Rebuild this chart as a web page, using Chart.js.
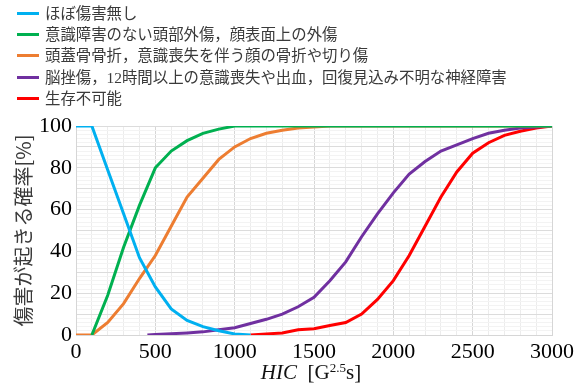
<!DOCTYPE html>
<html lang="ja">
<head>
<meta charset="utf-8">
<title>HIC 傷害確率</title>
<script src="https://cdn.jsdelivr.net/npm/chart.js@4.4.1/dist/chart.umd.min.js"></script>
<style>
    html, body { margin: 0; padding: 0; background: #fff; }
    #wrap { position: relative; width: 578px; height: 387px; }
    #legend { position: absolute; left: 0; top: 3px; font-family: "Liberation Serif", "Noto Sans CJK JP", serif; font-size: 15.4px; color: #3a3a3a; }
    #legend .item { position: relative; height: 21.2px; line-height: 21.2px; white-space: nowrap; }
    #legend .swatch { position: absolute; left: 17px; top: 9px; width: 22px; height: 3px; }
    #legend .label { position: absolute; left: 45px; top: 0; }
    #xtitle { position: absolute; left: 211px; width: 200px; top: 362px; text-align: center; font-family: "Liberation Serif", serif; font-size: 21px; line-height: 20px; color: #111; }
    #xtitle sup { font-size: 13px; vertical-align: 7px; line-height: 0; }
</style>
</head>
<body>
<div id="wrap">
    <canvas id="riskChart" width="578" height="387"></canvas>
    <div id="legend"></div>
    <div id="xtitle"><i>HIC</i>&nbsp;&nbsp;[G<sup>2.5</sup>s]</div>
</div>
<script>
// HIC values (x axis) shared by most series
const hic = [0, 100, 200, 300, 400, 500, 600, 700, 800, 900, 1000,
             1100, 1200, 1300, 1400, 1500, 1600, 1700, 1800, 1900, 2000,
             2100, 2200, 2300, 2400, 2500, 2600, 2700, 2800, 2900, 3000];

// probability [%]
const noInjury = [100, 100, 79, 58, 37, 23, 12.5, 7, 4, 2, 0.5,
                  0, null, null, null, null, null, null, null, null, null,
                  null, null, null, null, null, null, null, null, null, null];
const minorHead = [null, 0, 19, 42, 62, 80, 88, 93, 96.5, 98.5, 100,
                   100, 100, 100, 100, 100, 100, 100, 100, 100, 100,
                   100, 100, 100, 100, 100, 100, 100, 100, 100, 100];
const skullFracture = [0, 0, 6, 15, 27, 38, 52, 66, 75, 84, 90,
                       94, 96.5, 98, 99, 99.5, 100, 100, 100, 100, 100,
                       100, 100, 100, 100, 100, 100, 100, 100, 100, 100];
// purple curve starts a little after 400
const contusionHic = [450, 500, 600, 700, 800, 900, 1000, 1100, 1200, 1300, 1400,
                      1500, 1600, 1700, 1800, 1900, 2000, 2100, 2200, 2300, 2400,
                      2500, 2600, 2700, 2800, 2900, 3000];
const contusion = [0, 0.3, 0.6, 1, 1.5, 2.5, 3.5, 5.5, 7.5, 10, 13.5,
                   18, 26, 35, 47, 58, 68, 77, 83, 88, 91,
                   94, 96.5, 98, 99, 99.5, 100];
const fatal = [null, null, null, null, null, null, null, null, null, null, null,
               0, 0.5, 1, 2.5, 3, 4.5, 6, 10, 17, 26,
               38, 52, 66, 78, 87, 92, 95.5, 97.5, 99, 100];

const seriesNames = [
    'ほぼ傷害無し',
    '意識障害のない頭部外傷，顔表面上の外傷',
    '頭蓋骨骨折，意識喪失を伴う顔の骨折や切り傷',
    '脳挫傷，12時間以上の意識喪失や出血，回復見込み不明な神経障害',
    '生存不可能'
];
const seriesColors = ['#00b0f0', '#00b050', '#ed7d31', '#7030a0', '#ff0000'];

const yTicks = [0, 20, 40, 60, 80, 100];
const xTicks = [0, 500, 1000, 1500, 2000, 2500, 3000];

function toPoints(xs, ys) {
    const pts = [];
    xs.forEach(function(x, i) {
        if (ys[i] !== null && ys[i] !== undefined) pts.push({ x: x, y: ys[i] });
    });
    return pts;
}

document.addEventListener('DOMContentLoaded', function() {
    const seriesData = [
        toPoints(hic, noInjury),
        toPoints(hic, minorHead),
        toPoints(hic, skullFracture),
        toPoints(contusionHic, contusion),
        toPoints(hic, fatal)
    ];

    const datasets = seriesData.map(function(pts, i) {
        return {
            label: seriesNames[i],
            data: pts,
            borderColor: seriesColors[i],
            backgroundColor: seriesColors[i],
            borderWidth: 3,
            pointRadius: 0,
            tension: 0,
            fill: false
        };
    });

    // legend as html, one row per series
    const legend = document.getElementById('legend');
    seriesNames.forEach(function(name, i) {
        const row = document.createElement('div');
        row.className = 'item';
        row.innerHTML = '<span class="swatch" style="background:' + seriesColors[i] + '"></span>' +
                        '<span class="label">' + name + '</span>';
        legend.appendChild(row);
    });

    const tickFont = { family: '"Liberation Serif", "Times New Roman", serif', size: 22 };

    const ctx = document.getElementById('riskChart').getContext('2d');
    new Chart(ctx, {
        type: 'line',
        data: { datasets: datasets },
        options: {
            responsive: false,
            animation: false,
            devicePixelRatio: 1,
            layout: { padding: { top: 126, right: 21, left: 0, bottom: 0 } },
            plugins: {
                legend: { display: false },
                tooltip: { enabled: false }
            },
            scales: {
                x: {
                    type: 'linear',
                    min: 0,
                    max: 3000,
                    afterFit: function(scale) { scale.height = 52; },
                    ticks: {
                        stepSize: 100,
                        autoSkip: false,
                        maxRotation: 0,
                        padding: 4,
                        color: '#000',
                        font: tickFont,
                        callback: function(v) { return xTicks.includes(v) ? String(v) : ''; }
                    },
                    grid: {
                        drawTicks: false,
                        color: function(c) { return c.tick && c.tick.value % 500 === 0 ? '#d6d6d6' : '#ececec'; }
                    },
                    border: { color: '#d6d6d6' }
                },
                y: {
                    min: 0,
                    max: 100,
                    afterFit: function(scale) { scale.width = 76; },
                    ticks: {
                        stepSize: 2,
                        autoSkip: false,
                        padding: 4,
                        color: '#000',
                        font: tickFont,
                        callback: function(v) { return yTicks.includes(v) ? String(v) : ''; }
                    },
                    grid: {
                        drawTicks: false,
                        color: function(c) { return c.tick && c.tick.value % 10 === 0 ? '#dcdcdc' : '#f3f3f3'; }
                    },
                    border: { color: '#d6d6d6' },
                    title: {
                        display: true,
                        text: '傷害が起きる確率[%]',
                        color: '#3a3a3a',
                        padding: { top: 11, bottom: 0 },
                        font: { family: '"Noto Sans CJK JP", sans-serif', size: 20 }
                    }
                }
            }
        }
    });
});
</script>
</body>
</html>
